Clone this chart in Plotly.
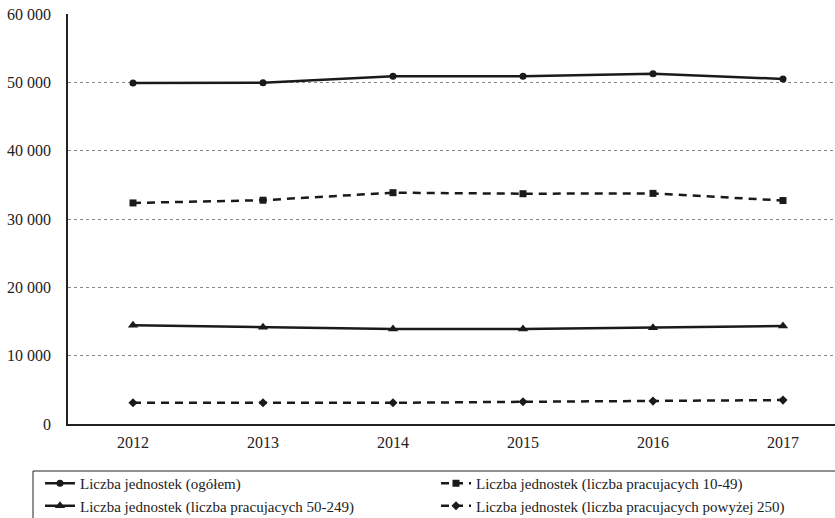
import plotly.graph_objects as go

years = ["2012", "2013", "2014", "2015", "2016", "2017"]
ogolem = [49900, 49950, 50900, 50900, 51250, 50500]
p10_49 = [32350, 32750, 33850, 33700, 33750, 32700]
p50_249 = [14450, 14150, 13900, 13900, 14100, 14350]
p250 = [3100, 3100, 3100, 3250, 3350, 3500]

names = [
    "Liczba jednostek (ogółem)",
    "Liczba jednostek (liczba pracujacych 10-49)",
    "Liczba jednostek (liczba pracujacych 50-249)",
    "Liczba jednostek (liczba pracujacych powyżej 250)",
]
series = [ogolem, p10_49, p50_249, p250]
dashes = ["solid", "8px,6px", "solid", "8px,6px"]
symbols = ["circle", "square", "triangle-up", "diamond"]
sizes = [7, 7, 9, 7]
legends = ["legend", "legend2", "legend", "legend2"]

fig = go.Figure()
for n, s, d, sym, sz, lg in zip(names, series, dashes, symbols, sizes, legends):
    fig.add_trace(go.Scatter(
        x=years, y=s, name=n, mode="lines+markers", legend=lg,
        line=dict(color="#1a1a1a", width=2.5, dash=d),
        marker=dict(symbol=sym, size=sz, color="#1a1a1a"),
    ))

W, H = 835, 518
L, R, T, B = 68, 0, 14, 94
pw, ph = W - L - R, H - T - B


def px(x):
    return (x - L) / pw


def py(y):
    return (H - B - y) / ph


legend_common = dict(
    orientation="v", yanchor="top", xanchor="left",
    bgcolor="rgba(0,0,0,0)", borderwidth=0,
    font=dict(family="Liberation Serif", size=15, color="#222"),
    itemwidth=30, tracegroupgap=0,
)

fig.update_layout(
    width=W, height=H,
    margin=dict(l=L, r=R, t=T, b=B, autoexpand=False),
    paper_bgcolor="white", plot_bgcolor="white",
    font=dict(family="Liberation Serif", size=16, color="#222"),
    separators=", ",
    showlegend=True,
    legend=dict(x=px(40), y=py(467), **legend_common),
    legend2=dict(x=px(436), y=py(467), **legend_common),
    shapes=[dict(
        type="rect", xref="paper", yref="paper",
        x0=px(33), x1=px(845), y0=py(471), y1=py(525),
        line=dict(color="#222", width=1), fillcolor="rgba(0,0,0,0)",
        layer="below",
    )],
    xaxis=dict(
        type="category", range=[-0.5, 5.4],
        showline=True, linecolor="#222", linewidth=1.5,
        showgrid=False, ticks="", ticklabelstandoff=3,
    ),
    yaxis=dict(
        range=[0, 60000], dtick=10000, tickformat=",d",
        showline=True, linecolor="#222", linewidth=1.5,
        showgrid=True, gridcolor="#888", griddash="dot", gridwidth=1,
        zeroline=False, ticks="", ticklabelstandoff=12,
    ),
)

fig.write_html("out.html")
